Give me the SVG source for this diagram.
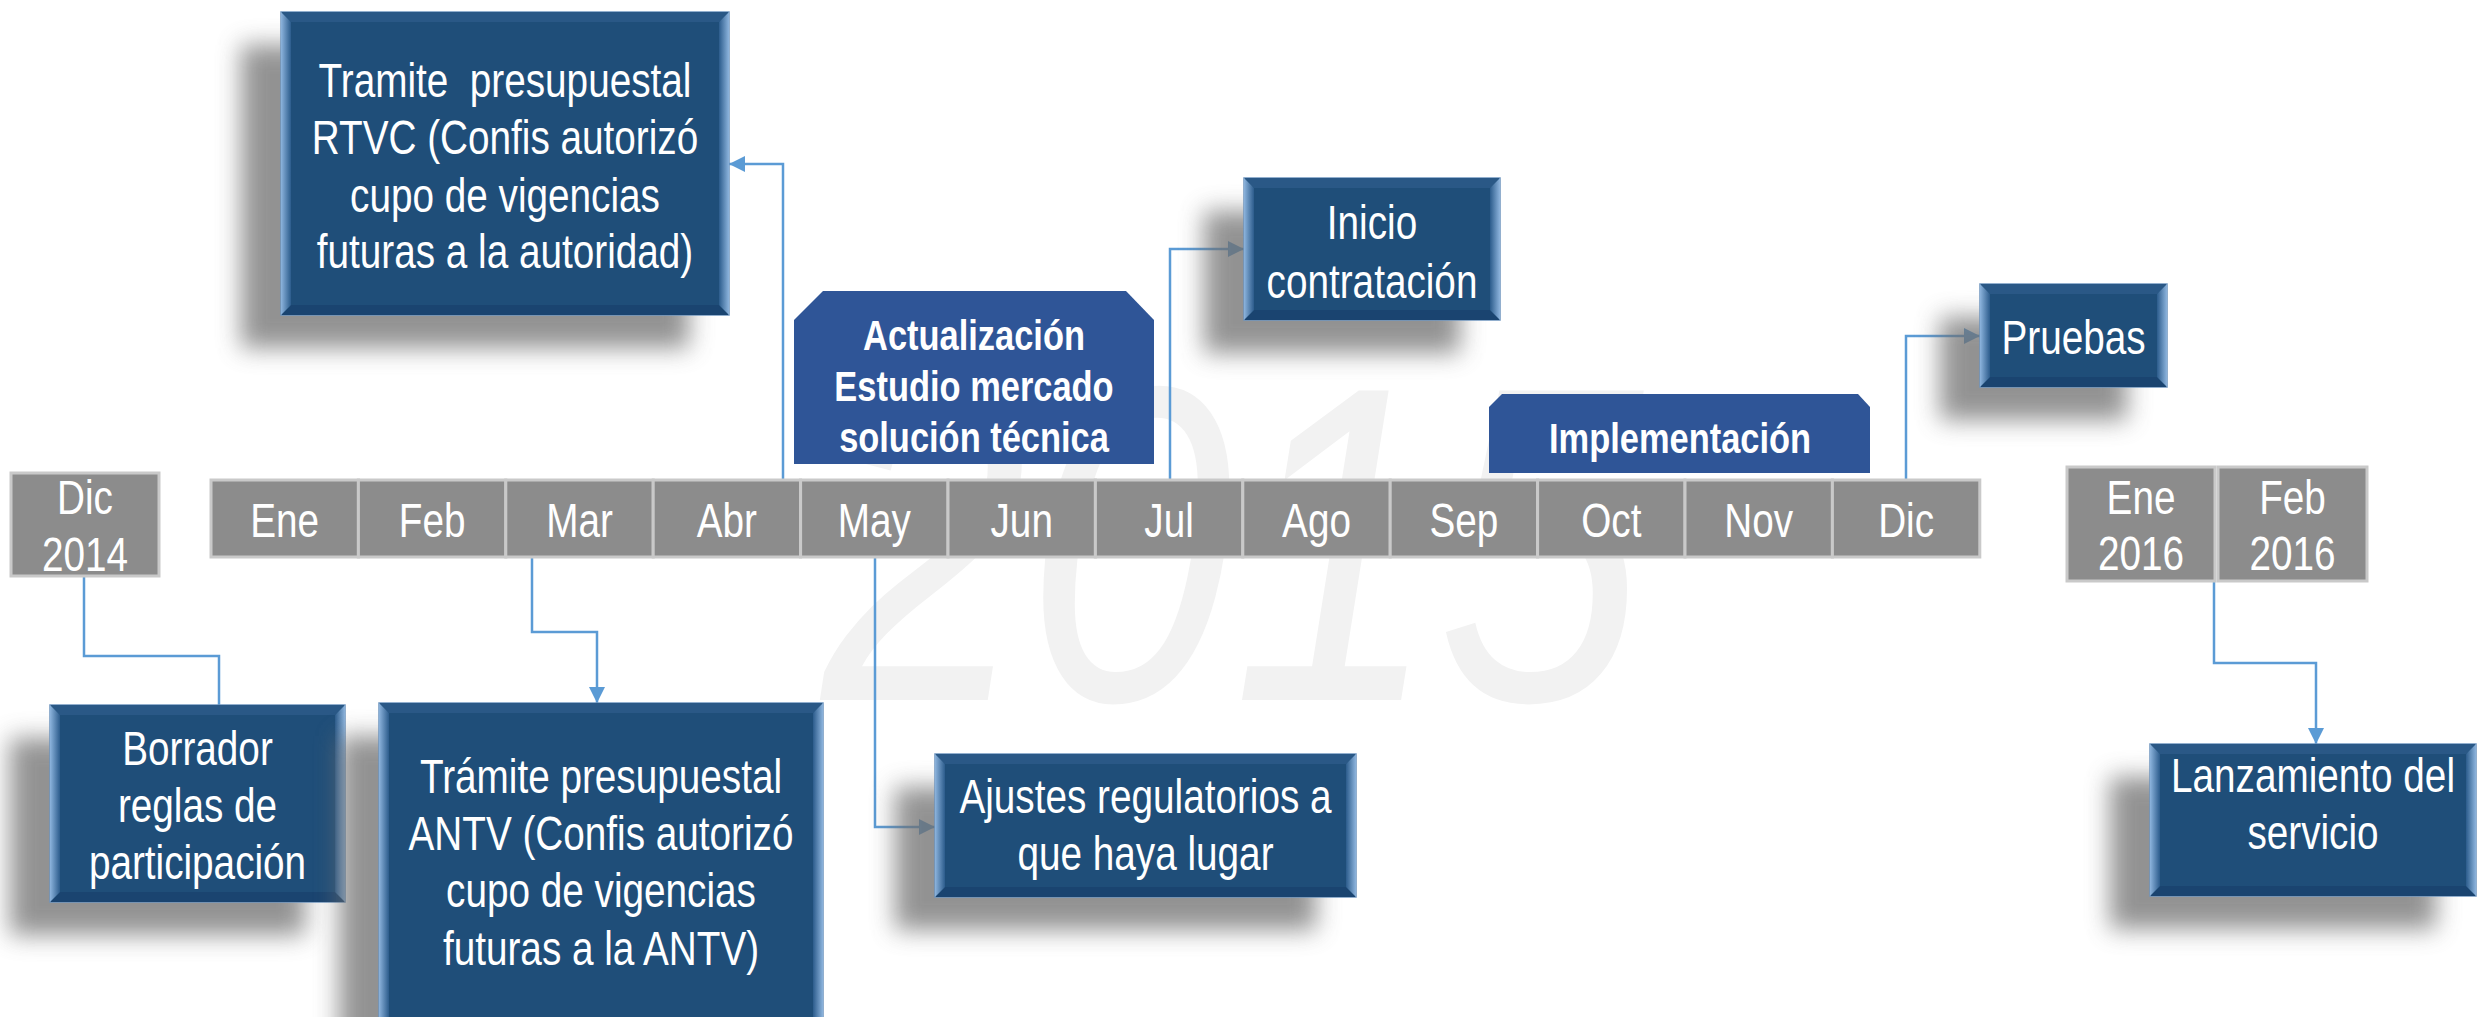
<svg xmlns="http://www.w3.org/2000/svg" width="2479" height="1017" viewBox="0 0 2479 1017">
<defs>
<style>
.t{font-family:"Liberation Sans",Arial,sans-serif;fill:#ffffff;text-anchor:middle;font-size:49px}
.b{font-family:"Liberation Sans",Arial,sans-serif;fill:#ffffff;text-anchor:middle;font-size:42px;font-weight:bold}
.cell{fill:#8c8c8c;stroke:#c9c9c9;stroke-width:3}
.main{fill:#1f4e79;stroke:#6f95bf;stroke-width:1.5}
.lb{fill:url(#gl)}
.rb{fill:url(#gr)}
.tb{fill:#2a5886}
.bb{fill:#1a4470}
.sh{fill:#6e6e6e;opacity:0.75;filter:url(#blur)}
.phase{fill:#2f5597}
.con{fill:none;stroke:#5b9bd5;stroke-width:2.5}
.wm{font-family:"Liberation Sans",Arial,sans-serif;font-style:italic;font-size:450px;fill:#f2f2f2}
</style>
<linearGradient id="gl" x1="0" y1="0" x2="1" y2="0"><stop offset="0" stop-color="#8db4dd"/><stop offset="1" stop-color="#2c5c8c"/></linearGradient>
<linearGradient id="gr" x1="1" y1="0" x2="0" y2="0"><stop offset="0" stop-color="#8db4dd"/><stop offset="1" stop-color="#2c5c8c"/></linearGradient>
<filter id="blur" x="-30%" y="-30%" width="160%" height="160%"><feGaussianBlur stdDeviation="12"/></filter>
<marker id="arr" markerUnits="userSpaceOnUse" markerWidth="18" markerHeight="16" refX="16" refY="8" orient="auto"><path d="M0,0 L16,8 L0,16 Z" fill="#5b9bd5"/></marker>
</defs>

<text class="wm" x="0" y="700" transform="matrix(0.82 0 0 1 822 0)">2015</text>

<g id="connectors">
<path class="con" d="M84 576 V656 H219 V705"/>
<path class="con" d="M532 557 V632 H597 V703" marker-end="url(#arr)"/>
<path class="con" d="M875 557 V827 H935" marker-end="url(#arr)"/>
<path class="con" d="M783 480 V164 H729" marker-end="url(#arr)"/>
<path class="con" d="M1170 480 V249 H1244" marker-end="url(#arr)"/>
<path class="con" d="M1906 480 V336 H1980" marker-end="url(#arr)"/>
<path class="con" d="M2214 581 V663 H2316 V744" marker-end="url(#arr)"/>
</g>

<g id="months">
<g id="m-ene"><rect class="cell" x="211" y="480" width="147.4" height="77"/><text class="t" x="0" y="537" transform="matrix(0.79 0 0 1 284.7 0)">Ene</text></g>
<g id="m-feb"><rect class="cell" x="358.4" y="480" width="147.4" height="77"/><text class="t" x="0" y="537" transform="matrix(0.79 0 0 1 432.1 0)">Feb</text></g>
<g id="m-mar"><rect class="cell" x="505.8" y="480" width="147.4" height="77"/><text class="t" x="0" y="537" transform="matrix(0.79 0 0 1 579.5 0)">Mar</text></g>
<g id="m-abr"><rect class="cell" x="653.2" y="480" width="147.4" height="77"/><text class="t" x="0" y="537" transform="matrix(0.79 0 0 1 726.9 0)">Abr</text></g>
<g id="m-may"><rect class="cell" x="800.6" y="480" width="147.4" height="77"/><text class="t" x="0" y="537" transform="matrix(0.79 0 0 1 874.3 0)">May</text></g>
<g id="m-jun"><rect class="cell" x="948" y="480" width="147.4" height="77"/><text class="t" x="0" y="537" transform="matrix(0.79 0 0 1 1021.7 0)">Jun</text></g>
<g id="m-jul"><rect class="cell" x="1095.4" y="480" width="147.4" height="77"/><text class="t" x="0" y="537" transform="matrix(0.79 0 0 1 1169.1 0)">Jul</text></g>
<g id="m-ago"><rect class="cell" x="1242.8" y="480" width="147.4" height="77"/><text class="t" x="0" y="537" transform="matrix(0.79 0 0 1 1316.5 0)">Ago</text></g>
<g id="m-sep"><rect class="cell" x="1390.2" y="480" width="147.4" height="77"/><text class="t" x="0" y="537" transform="matrix(0.79 0 0 1 1463.9 0)">Sep</text></g>
<g id="m-oct"><rect class="cell" x="1537.6" y="480" width="147.4" height="77"/><text class="t" x="0" y="537" transform="matrix(0.79 0 0 1 1611.3 0)">Oct</text></g>
<g id="m-nov"><rect class="cell" x="1685" y="480" width="147.4" height="77"/><text class="t" x="0" y="537" transform="matrix(0.79 0 0 1 1758.7 0)">Nov</text></g>
<g id="m-dic"><rect class="cell" x="1832.4" y="480" width="147.4" height="77"/><text class="t" x="0" y="537" transform="matrix(0.79 0 0 1 1906.1 0)">Dic</text></g>
</g>

<g id="dic2014"><rect class="cell" x="11" y="473" width="148" height="103"/><text class="t" x="0" y="514" transform="matrix(0.79 0 0 1 85 0)">Dic</text><text class="t" x="0" y="571" transform="matrix(0.79 0 0 1 85 0)">2014</text></g>
<g id="ene2016"><rect class="cell" x="2067" y="467" width="148" height="114"/><text class="t" x="0" y="514" transform="matrix(0.79 0 0 1 2141 0)">Ene</text><text class="t" x="0" y="570" transform="matrix(0.79 0 0 1 2141 0)">2016</text></g>
<g id="feb2016"><rect class="cell" x="2218" y="467" width="149" height="114"/><text class="t" x="0" y="514" transform="matrix(0.79 0 0 1 2292.5 0)">Feb</text><text class="t" x="0" y="570" transform="matrix(0.79 0 0 1 2292.5 0)">2016</text></g>

<g id="actualizacion"><path class="phase" d="M794 464 V320 L823 291 H1126 L1154 320 V464 Z"/>
<text class="b" x="0" y="350" transform="matrix(0.82 0 0 1 974 0)">Actualización</text>
<text class="b" x="0" y="401" transform="matrix(0.82 0 0 1 974 0)">Estudio mercado</text>
<text class="b" x="0" y="452" transform="matrix(0.82 0 0 1 974 0)">solución técnica</text></g>

<g id="implementacion"><path class="phase" d="M1489 473 V407 L1502 394 H1858 L1870 407 V473 Z"/><text class="b" x="0" y="453" transform="matrix(0.82 0 0 1 1680 0)">Implementación</text></g>

<g id="rtvc">
<rect class="sh" x="241" y="45" width="448" height="303"/>
<rect class="main" x="281" y="12" width="448" height="303"/>
<polygon class="tb" points="281,12 729,12 719,22 291,22"/>
<polygon class="bb" points="281,315 729,315 719,305 291,305"/>
<polygon class="lb" points="281,12 291,22 291,305 281,315"/>
<polygon class="rb" points="729,12 719,22 719,305 729,315"/>
<text class="t" x="0" y="97" style="white-space:pre" transform="matrix(0.79 0 0 1 505 0)">Tramite  presupuestal</text>
<text class="t" x="0" y="154" transform="matrix(0.79 0 0 1 505 0)">RTVC (Confis autorizó</text>
<text class="t" x="0" y="212" transform="matrix(0.79 0 0 1 505 0)">cupo de vigencias</text>
<text class="t" x="0" y="268" transform="matrix(0.79 0 0 1 505 0)">futuras a la autoridad)</text>
</g>

<g id="inicio">
<rect class="sh" x="1204" y="211" width="256" height="142"/>
<rect class="main" x="1244" y="178" width="256" height="142"/>
<polygon class="tb" points="1244,178 1500,178 1490,188 1254,188"/>
<polygon class="bb" points="1244,320 1500,320 1490,310 1254,310"/>
<polygon class="lb" points="1244,178 1254,188 1254,310 1244,320"/>
<polygon class="rb" points="1500,178 1490,188 1490,310 1500,320"/>
<text class="t" x="0" y="239" transform="matrix(0.79 0 0 1 1372 0)">Inicio</text>
<text class="t" x="0" y="298" transform="matrix(0.79 0 0 1 1372 0)">contratación</text>
</g>

<g id="pruebas">
<rect class="sh" x="1940" y="317" width="187" height="103"/>
<rect class="main" x="1980" y="284" width="187" height="103"/>
<polygon class="tb" points="1980,284 2167,284 2157,294 1990,294"/>
<polygon class="bb" points="1980,387 2167,387 2157,377 1990,377"/>
<polygon class="lb" points="1980,284 1990,294 1990,377 1980,387"/>
<polygon class="rb" points="2167,284 2157,294 2157,377 2167,387"/>
<text class="t" x="0" y="354" transform="matrix(0.79 0 0 1 2073.5 0)">Pruebas</text>
</g>

<g id="borrador">
<rect class="sh" x="10" y="738" width="295" height="197"/>
<rect class="main" x="50" y="705" width="295" height="197"/>
<polygon class="tb" points="50,705 345,705 335,715 60,715"/>
<polygon class="bb" points="50,902 345,902 335,892 60,892"/>
<polygon class="lb" points="50,705 60,715 60,892 50,902"/>
<polygon class="rb" points="345,705 335,715 335,892 345,902"/>
<text class="t" x="0" y="765" transform="matrix(0.79 0 0 1 197.5 0)">Borrador</text>
<text class="t" x="0" y="822" transform="matrix(0.79 0 0 1 197.5 0)">reglas de</text>
<text class="t" x="0" y="879" transform="matrix(0.79 0 0 1 197.5 0)">participación</text>
</g>

<g id="antv">
<rect class="sh" x="339" y="736" width="444" height="320"/>
<rect class="main" x="379" y="703" width="444" height="330"/>
<polygon class="tb" points="379,703 823,703 813,713 389,713"/>
<polygon class="lb" points="379,703 389,713 389,1023 379,1033"/>
<polygon class="rb" points="823,703 813,713 813,1023 823,1033"/>
<text class="t" x="0" y="793" transform="matrix(0.79 0 0 1 601 0)">Trámite presupuestal</text>
<text class="t" x="0" y="850" transform="matrix(0.79 0 0 1 601 0)">ANTV (Confis autorizó</text>
<text class="t" x="0" y="907" transform="matrix(0.79 0 0 1 601 0)">cupo de vigencias</text>
<text class="t" x="0" y="965" transform="matrix(0.79 0 0 1 601 0)">futuras a la ANTV)</text>
</g>

<g id="ajustes">
<rect class="sh" x="895" y="787" width="421" height="143"/>
<rect class="main" x="935" y="754" width="421" height="143"/>
<polygon class="tb" points="935,754 1356,754 1346,764 945,764"/>
<polygon class="bb" points="935,897 1356,897 1346,887 945,887"/>
<polygon class="lb" points="935,754 945,764 945,887 935,897"/>
<polygon class="rb" points="1356,754 1346,764 1346,887 1356,897"/>
<text class="t" x="0" y="813" transform="matrix(0.79 0 0 1 1145.5 0)">Ajustes regulatorios a</text>
<text class="t" x="0" y="870" transform="matrix(0.79 0 0 1 1145.5 0)">que haya lugar</text>
</g>

<g id="lanzamiento">
<rect class="sh" x="2110" y="777" width="326" height="152"/>
<rect class="main" x="2150" y="744" width="326" height="152"/>
<polygon class="tb" points="2150,744 2476,744 2466,754 2160,754"/>
<polygon class="bb" points="2150,896 2476,896 2466,886 2160,886"/>
<polygon class="lb" points="2150,744 2160,754 2160,886 2150,896"/>
<polygon class="rb" points="2476,744 2466,754 2466,886 2476,896"/>
<text class="t" x="0" y="792" transform="matrix(0.79 0 0 1 2313 0)">Lanzamiento del</text>
<text class="t" x="0" y="849" transform="matrix(0.79 0 0 1 2313 0)">servicio</text>
</g>
</svg>
